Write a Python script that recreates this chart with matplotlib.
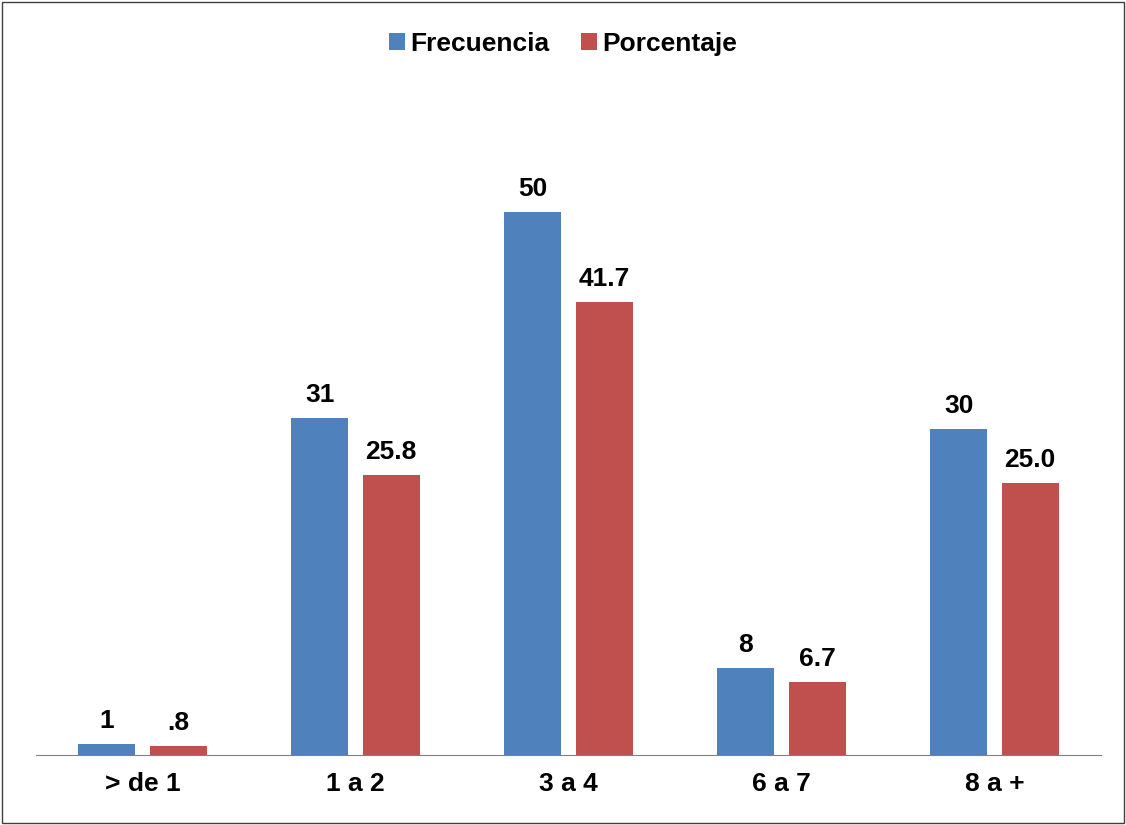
import matplotlib.pyplot as plt
import numpy as np

categorias = ["> de 1", "1 a 2", "3 a 4", "6 a 7", "8 a +"]
frecuencia = [1, 31, 50, 8, 30]
porcentaje = [0.8, 25.8, 41.7, 6.7, 25.0]
etiq_frec = ["1", "31", "50", "8", "30"]
etiq_porc = [".8", "25.8", "41.7", "6.7", "25.0"]

plt.rcParams["font.family"] = ["Liberation Sans", "DejaVu Sans"]

fig = plt.figure(figsize=(11.26, 8.25), dpi=100)
ax = fig.add_axes([36 / 1126, 70 / 825, 1065 / 1126, 652 / 825])

x = np.arange(len(categorias))
w = 0.267
off = 0.167
b1 = ax.bar(x - off, frecuencia, w, color="#4F81BD", label="Frecuencia")
b2 = ax.bar(x + off, porcentaje, w, color="#C0504D", label="Porcentaje")

for bars, labs in [(b1, etiq_frec), (b2, etiq_porc)]:
    for b, t in zip(bars, labs):
        ax.text(b.get_x() + b.get_width() / 2, b.get_height() + 1.0, t,
                ha="center", va="bottom", fontsize=19, fontweight="bold")

ax.set_xlim(-0.5, len(categorias) - 0.5)
ax.set_ylim(0, 60)
ax.set_yticks([])
ax.set_xticks(x)
ax.set_xticklabels(categorias, fontsize=19, fontweight="bold")
ax.tick_params(axis="x", length=0, pad=12)
for s in ["top", "right", "left"]:
    ax.spines[s].set_visible(False)
ax.spines["bottom"].set_color("#808080")

fig.legend(loc="upper center", bbox_to_anchor=(0.5, 0.99), ncol=2, frameon=False,
           prop={"size": 19, "weight": "bold"}, handlelength=0.6, handleheight=0.6,
           handletextpad=0.2, columnspacing=1.2)

fig.patches.append(plt.Rectangle((0.002, 0.002), 0.996, 0.996, transform=fig.transFigure,
                                 fill=False, edgecolor="#404040", linewidth=1))

fig.savefig("out.png", dpi=100)
